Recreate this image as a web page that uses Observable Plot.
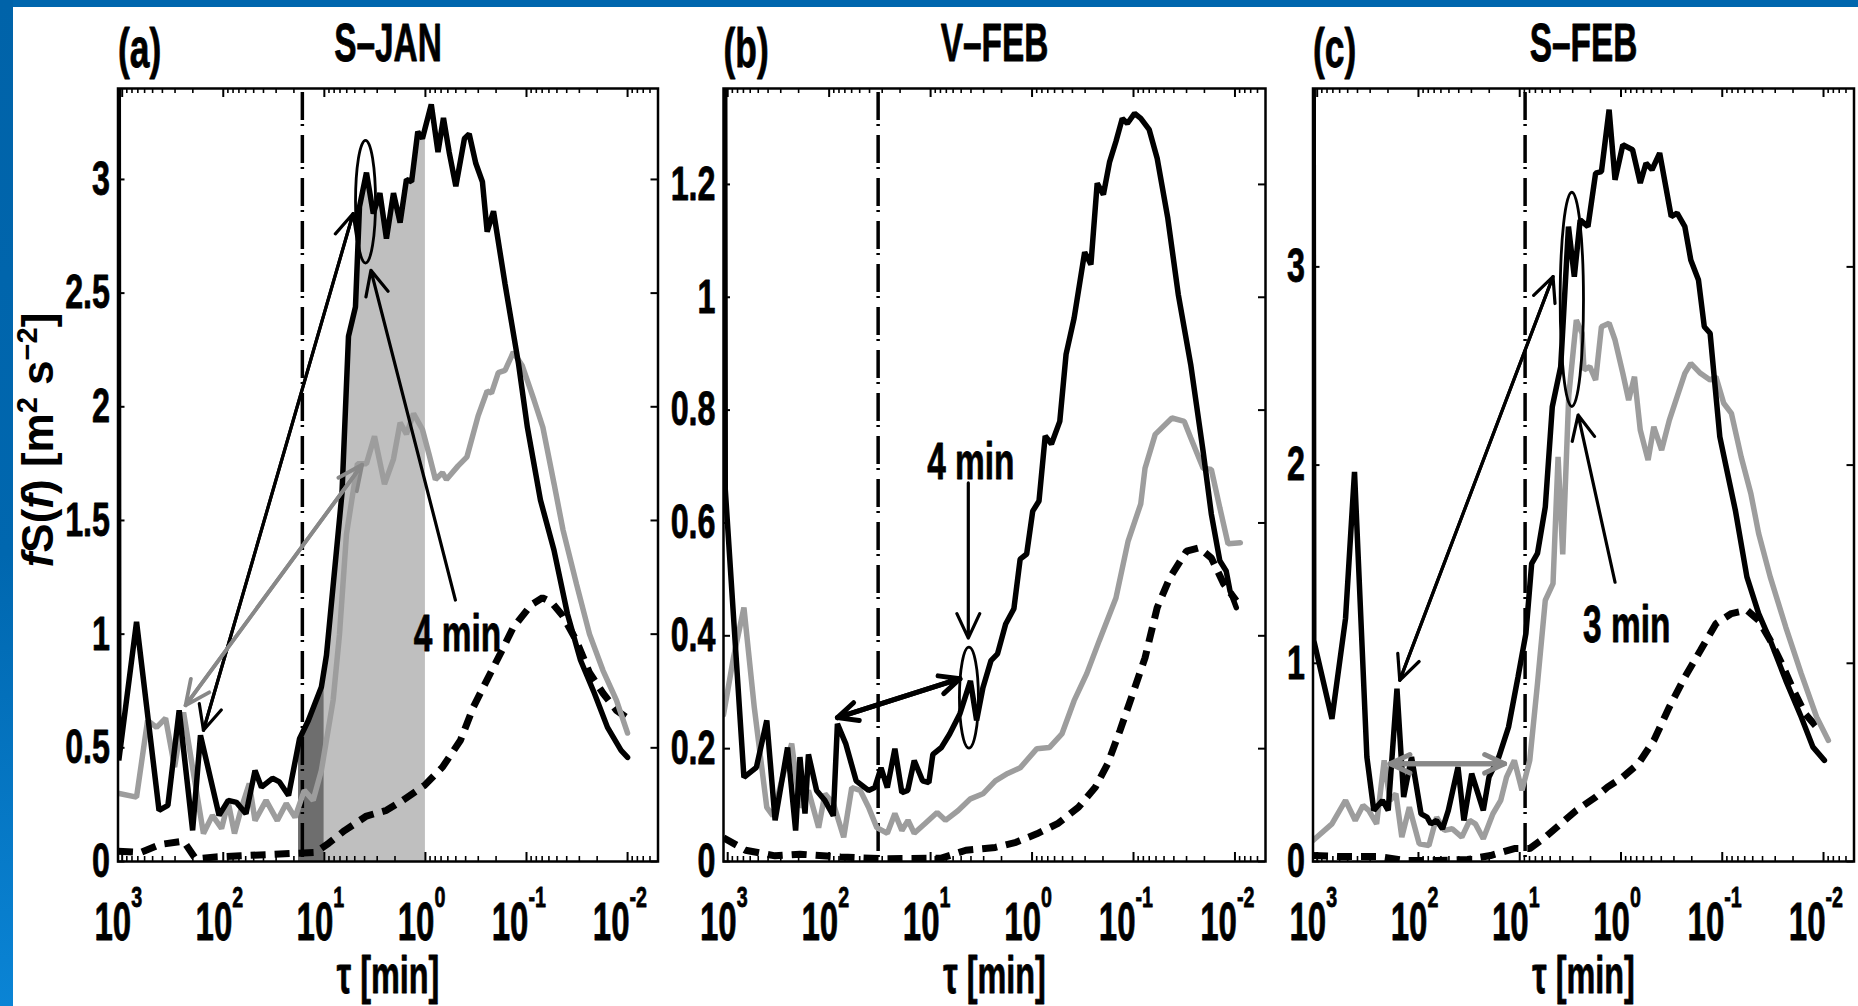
<!DOCTYPE html>
<html>
<head>
<meta charset="utf-8">
<script src="https://cdn.jsdelivr.net/npm/d3@7"></script>
<script src="https://cdn.jsdelivr.net/npm/@observablehq/plot@0.6"></script>
<style>
html,body{margin:0;padding:0;background:#fff;}
#fig{position:relative;width:1858px;height:1006px;overflow:hidden;background:#fff;}
#topbar{position:absolute;left:0;top:0;width:1858px;height:7px;background:#0066ae;}
#leftbar{position:absolute;left:0;top:0;width:13px;height:1006px;background:linear-gradient(to bottom,#0063a9 0%,#0067af 55%,#0a84d5 100%);}
.panel{position:absolute;top:0;}
#ylab{position:absolute;left:38px;top:440px;transform:translate(-50%,-50%) rotate(-90deg);font-family:'Liberation Sans',Arial,sans-serif;font-weight:bold;font-size:44px;line-height:44px;white-space:nowrap;color:#000;}
#ylab sup{font-size:0.66em;vertical-align:0.55em;line-height:0;}
</style>
</head>
<body>
<div id="fig">
  <div id="panelA" class="panel" style="left:0px"></div>
  <div id="panelB" class="panel" style="left:640px"></div>
  <div id="panelC" class="panel" style="left:1270px"></div>
  <div id="ylab"><i>f</i>S(<i>f</i>) [m<sup>2</sup> s<sup>−2</sup>]</div>
  <div id="topbar"></div>
  <div id="leftbar"></div>
</div>
<script>
// ---------------- axis tick labels ----------------
const majorTau = [1000, 100, 10, 1, 0.1, 0.01];
const majorExp = ["3", "2", "1", "0", "-1", "-2"];
const xDomain = [1100, 0.005];

const yTicksA = [0, 0.5, 1, 1.5, 2, 2.5, 3];
const yLabelsA = ["0", "0.5", "1", "1.5", "2", "2.5", "3"];
const yTicksB = [0, 0.2, 0.4, 0.6, 0.8, 1, 1.2];
const yLabelsB = ["0", "0.2", "0.4", "0.6", "0.8", "1", "1.2"];
const yTicksC = [0, 1, 2, 3];
const yLabelsC = ["0", "1", "2", "3"];

// ---------------- panel (a) S-JAN : [tau (min), fS(f)] ----------------
const a_black = [[1100,5],[1080,0.445],[721,1.054],[432,0.225],[353,0.247],[273,0.665],[201,0.137],[168,0.555],[110,0.203],[89.3,0.269],[74,0.26],[59.6,0.21],[48.5,0.40],[41.9,0.327],[32.6,0.366],[27.8,0.35],[22.6,0.29],[17.6,0.54],[14.4,0.62],[10.7,0.767],[9.53,0.907],[6.69,1.62],[5.77,2.31],[4.92,2.44],[4.49,2.88],[3.83,3.03],[3.28,2.85],[2.82,2.94],[2.43,2.74],[2.07,2.94],[1.78,2.81],[1.54,3.0],[1.37,2.99],[1.19,3.21],[1.07,3.18],[0.875,3.33],[0.751,3.12],[0.663,3.27],[0.582,3.12],[0.50,2.97],[0.411,3.18],[0.369,3.20],[0.317,3.07],[0.273,2.99],[0.245,2.77],[0.212,2.86],[0.163,2.54],[0.120,2.19],[0.098,1.91],[0.0728,1.59],[0.0535,1.37],[0.0394,1.09],[0.0292,0.885],[0.0213,0.74],[0.0158,0.59],[0.0116,0.489],[0.0100,0.458]];
const a_grey = [[1100,0.30],[721,0.283],[561,0.62],[457,0.59],[372,0.63],[303,0.415],[247,0.656],[192,0.357],[157,0.123],[128,0.203],[104,0.145],[89.3,0.26],[77.4,0.123],[65.9,0.238],[55.3,0.343],[48.5,0.18],[37.7,0.269],[29.2,0.18],[23.8,0.255],[19.5,0.194],[15.8,0.313],[12.9,0.269],[10.7,0.40],[8.18,0.71],[7.08,1.0],[6.04,1.44],[4.70,1.75],[3.83,1.75],[3.19,1.87],[2.54,1.66],[2.07,1.77],[1.78,1.93],[1.54,1.88],[1.31,1.97],[1.07,1.90],[0.92,1.79],[0.796,1.68],[0.678,1.71],[0.619,1.68],[0.475,1.74],[0.388,1.78],[0.301,1.96],[0.245,2.07],[0.222,2.06],[0.19,2.15],[0.163,2.16],[0.135,2.24],[0.11,2.18],[0.0843,2.03],[0.0689,1.91],[0.0533,1.66],[0.0436,1.46],[0.032,1.22],[0.0238,1.0],[0.0175,0.84],[0.0129,0.71],[0.01,0.565]];
const a_dash = [[1100,0.045],[658,0.04],[418,0.075],[247,0.09],[188,0.012],[119,0.02],[67.6,0.025],[38.3,0.03],[21.6,0.035],[12.2,0.04],[9.08,0.08],[6.31,0.136],[3.83,0.2],[2.43,0.225],[1.69,0.268],[1.02,0.335],[0.678,0.415],[0.45,0.533],[0.335,0.68],[0.245,0.80],[0.181,0.915],[0.135,1.03],[0.0893,1.13],[0.0695,1.16],[0.0566,1.14],[0.0436,1.08],[0.032,0.97],[0.0238,0.83],[0.0175,0.74],[0.0129,0.665],[0.01,0.63]];
const a_dashdot = 16.5;
const a_shadeDark = [18, 10];
const a_shadeLight = [10, 1];
const a_ellipse = {tau1: 4.86, tau2: 3.08, v1: 2.63, v2: 3.17};
const a_arrows = [
  {t1: 157, v1: 0.577, t2: 5.19, v2: 2.85, both: true, grey: false},
  {t1: 236, v1: 0.687, t2: 4.23, v2: 1.745, both: true, grey: true},
  {t1: 0.505, v1: 1.15, t2: 3.46, v2: 2.60, both: false, grey: false}
];
const a_note = {tau: 0.482, v: 0.996, label: "4 min"};

// ---------------- panel (b) V-FEB ----------------
const b_black = [[1100,3],[1057,0.66],[692,0.149],[521,0.167],[412,0.25],[341,0.073],[257,0.202],[214,0.055],[194,0.185],[173,0.085],[160,0.19],[133,0.126],[110,0.108],[91,0.081],[82.9,0.244],[68.7,0.209],[54.2,0.143],[40.9,0.126],[35.5,0.131],[30.8,0.166],[26.7,0.131],[22.5,0.2],[19.2,0.122],[16.8,0.126],[14.5,0.179],[12.0,0.143],[10.4,0.14],[9.5,0.19],[7.83,0.202],[6.49,0.226],[5.14,0.262],[4.05,0.32],[3.52,0.25],[3.05,0.308],[2.54,0.356],[2.19,0.368],[1.82,0.421],[1.51,0.448],[1.31,0.536],[1.13,0.545],[0.985,0.621],[0.854,0.639],[0.742,0.754],[0.644,0.74],[0.533,0.78],[0.462,0.899],[0.385,0.963],[0.303,1.08],[0.263,1.058],[0.228,1.202],[0.198,1.182],[0.172,1.24],[0.149,1.276],[0.129,1.317],[0.115,1.308],[0.0976,1.326],[0.0848,1.317],[0.070,1.297],[0.0584,1.246],[0.0459,1.14],[0.0362,1.005],[0.0273,0.881],[0.0206,0.727],[0.0171,0.616],[0.0141,0.533],[0.0122,0.515],[0.0112,0.48],[0.0097,0.45]];
const b_grey = [[1100,0.26],[876,0.362],[692,0.45],[547,0.273],[412,0.096],[358,0.081],[282,0.156],[234,0.209],[194,0.096],[160,0.126],[127,0.06],[110,0.12],[91,0.103],[71.9,0.043],[59.9,0.131],[49.4,0.126],[40.9,0.096],[33.9,0.06],[26.7,0.05],[22.5,0.085],[19.2,0.055],[16.7,0.073],[14.5,0.05],[11.4,0.067],[8.62,0.087],[7.14,0.073],[5.38,0.09],[4.05,0.111],[3.05,0.12],[2.30,0.143],[1.74,0.156],[1.31,0.166],[0.896,0.2],[0.676,0.202],[0.508,0.226],[0.385,0.285],[0.289,0.333],[0.218,0.391],[0.149,0.467],[0.113,0.568],[0.0848,0.634],[0.077,0.697],[0.0611,0.757],[0.0418,0.786],[0.0316,0.78],[0.0273,0.751],[0.0206,0.697],[0.0171,0.695],[0.0141,0.627],[0.0117,0.563],[0.00885,0.565]];
const b_dash = [[1100,0.042],[667,0.02],[341,0.01],[194,0.013],[76.9,0.008],[29.6,0.005],[7.83,0.006],[4.49,0.02],[2.30,0.025],[1.44,0.034],[0.896,0.049],[0.56,0.067],[0.349,0.096],[0.239,0.131],[0.180,0.173],[0.136,0.232],[0.102,0.297],[0.077,0.361],[0.0584,0.45],[0.0438,0.503],[0.030,0.55],[0.0226,0.556],[0.0171,0.538],[0.0129,0.492],[0.0097,0.462]];
const b_dashdot = 32.9;
const b_ellipse = {tau1: 5.14, tau2: 3.34, v1: 0.2, v2: 0.379};
const b_arrows = [
  {t1: 4.25, v1: 0.671, t2: 4.25, v2: 0.396, both: false, grey: false},
  {t1: 82.9, v1: 0.255, t2: 5.14, v2: 0.324, both: true, grey: false, thick: true}
];
const b_note = {tau: 4.01, v: 0.706, label: "4 min"};

// ---------------- panel (c) S-FEB ----------------
const c_black = [[1100,5],[1081,1.116],[715,0.72],[525,1.226],[428,1.966],[323,0.527],[276,0.258],[227,0.308],[199,0.258],[163,0.872],[140,0.325],[117,0.527],[94.2,0.24],[82.3,0.224],[75.5,0.19],[66.2,0.207],[57.9,0.165],[50.7,0.258],[40.7,0.476],[35.6,0.207],[29.8,0.443],[22.9,0.258],[20.1,0.426],[16.1,0.527],[12.9,0.678],[10.4,0.931],[8.69,1.15],[7.62,1.503],[6.68,1.554],[5.59,1.789],[4.77,2.294],[3.94,2.496],[3.30,3.203],[2.89,2.951],[2.53,3.237],[2.12,3.203],[1.78,3.473],[1.56,3.481],[1.31,3.793],[1.145,3.439],[0.959,3.616],[0.769,3.591],[0.645,3.423],[0.566,3.523],[0.494,3.49],[0.415,3.574],[0.319,3.254],[0.279,3.271],[0.234,3.203],[0.2045,3.035],[0.1717,2.934],[0.1504,2.698],[0.1318,2.665],[0.1057,2.143],[0.0887,1.958],[0.0743,1.773],[0.0571,1.436],[0.0437,1.251],[0.0336,1.116],[0.0236,0.914],[0.0166,0.729],[0.0127,0.577],[0.0098,0.51]];
const c_grey = [[1100,0.106],[715,0.19],[525,0.308],[421,0.207],[353,0.283],[310,0.258],[259,0.19],[218,0.51],[191,0.308],[167,0.342],[146,0.123],[123,0.274],[98.3,0.089],[78.8,0.081],[66.2,0.224],[55.4,0.157],[46.4,0.165],[37.3,0.123],[31.2,0.207],[27.4,0.19],[22.9,0.115],[18.4,0.241],[15.4,0.308],[13.5,0.426],[11.3,0.51],[9.5,0.359],[7.96,0.51],[6.68,0.897],[5.59,1.318],[4.69,1.402],[4.18,2.042],[3.76,1.55],[3.28,2.35],[2.76,2.732],[2.42,2.665],[2.32,2.48],[2.03,2.497],[1.78,2.429],[1.56,2.698],[1.31,2.716],[1.145,2.631],[0.959,2.463],[0.84,2.328],[0.736,2.446],[0.645,2.177],[0.54,2.025],[0.474,2.193],[0.397,2.076],[0.333,2.227],[0.279,2.345],[0.234,2.463],[0.2045,2.513],[0.1643,2.463],[0.1318,2.429],[0.1155,2.446],[0.0967,2.312],[0.0812,2.261],[0.0651,2.042],[0.0522,1.857],[0.0437,1.655],[0.0336,1.436],[0.0236,1.183],[0.0166,0.948],[0.0117,0.729],[0.00895,0.611]];
const c_dash = [[1100,0.03],[601,0.025],[248,0.025],[134,0.005],[66.2,0.005],[32.7,0.01],[19.4,0.03],[11.3,0.065],[7.98,0.065],[5.59,0.123],[3.94,0.19],[2.76,0.258],[1.78,0.325],[1.36,0.375],[0.959,0.426],[0.674,0.493],[0.474,0.611],[0.333,0.779],[0.234,0.931],[0.164,1.066],[0.1155,1.2],[0.0812,1.251],[0.0571,1.268],[0.0437,1.217],[0.0336,1.116],[0.0258,0.998],[0.0198,0.864],[0.0152,0.746],[0.0117,0.678],[0.0102,0.68]];
const c_dashdot = 8.85;
const c_ellipse = {tau1: 3.94, tau2: 2.32, v1: 2.293, v2: 3.374};
const c_arrows = [
  {t1: 1.145, v1: 1.409, t2: 2.65, v2: 2.253, both: false, grey: false},
  {t1: 153, v1: 0.914, t2: 4.69, v2: 2.951, both: true, grey: false},
  {t1: 191, v1: 0.493, t2: 14.1, v2: 0.493, both: true, grey: true, thick: true}
];
const c_note = {tau: 0.877, v: 1.19, label: "3 min"};

// ---------------- styling ----------------
function hasFont(f) {
  const c = document.createElement("canvas").getContext("2d");
  const s = "0123456789 S-JAN min (a)";
  c.font = "bold 100px monospace"; const w0 = c.measureText(s).width;
  c.font = "bold 100px " + f + ", monospace"; const w1 = c.measureText(s).width;
  return Math.abs(w0 - w1) > 0.5;
}
const narrow = hasFont("'Liberation Sans Narrow'") || hasFont("'Arial Narrow'") || hasFont("'Nimbus Sans Narrow'");
const FONT = narrow ? "'Liberation Sans Narrow','Arial Narrow','Nimbus Sans Narrow','Liberation Sans',Arial,sans-serif" : "'Liberation Sans',Arial,sans-serif";
const WIDEN = narrow ? 1 : 0.82;   // extra squeeze if only the regular-width face exists

// text roles: font size -> horizontal scale
const FS = {ytick: 48, xbase: 53, xexp: 30, title: 54, tag: 55, xlab: 52, note: 51};
const SXBY = {48: 0.82, 53: 0.76, 30: 0.8, 54: 0.755, 55: 0.785, 52: 0.76, 51: 0.8};

const H = 1006, MT = 88, MB = 145;
const GREY = "#9d9d9d", GREY_ARROW = "#888888", SHADE_LIGHT = "#bfbfbf", SHADE_DARK = "#6e6e6e";
let clipCount = 0;

function scalesAndDims(args) {
  const scales = args.find(a => a && !Array.isArray(a) && typeof a.x === "function" && typeof a.y === "function");
  const dims = args.find(a => a && typeof a === "object" && "marginTop" in a && "height" in a);
  return {scales, dims};
}
function shadeMark(rows, range, fill) {
  return function(...args) {
    const {scales, dims} = scalesAndDims(args);
    const x = scales.x, y = scales.y;
    const xa = x(range[0]), xb = x(range[1]);
    const g = d3.create("svg:g");
    const id = "shadeclip" + (++clipCount);
    g.append("clipPath").attr("id", id).append("rect")
      .attr("x", Math.min(xa, xb)).attr("width", Math.abs(xb - xa))
      .attr("y", dims.marginTop).attr("height", dims.height - dims.marginTop - dims.marginBottom);
    g.append("path").attr("clip-path", `url(#${id})`).attr("fill", fill)
      .attr("d", d3.area().x(d => x(d.tau)).y0(y(0)).y1(d => y(d.v))(rows));
    return g.node();
  };
}
function ellipseMark(e) {
  return function(...args) {
    const {scales} = scalesAndDims(args);
    const xa = scales.x(e.tau1), xb = scales.x(e.tau2), ya = scales.y(e.v1), yb = scales.y(e.v2);
    return d3.create("svg:ellipse")
      .attr("cx", (xa + xb) / 2).attr("cy", (ya + yb) / 2)
      .attr("rx", Math.abs(xb - xa) / 2).attr("ry", Math.abs(yb - ya) / 2)
      .attr("fill", "none").attr("stroke", "black").attr("stroke-width", 2.8).node();
  };
}
function arrowMarks(list) {
  const out = [];
  for (const a of list) {
    const sw = a.thick ? 5 : (a.grey ? 3.8 : 3.2);
    const wing = a.thick ? 22 : 27;
    const opts = {stroke: a.grey ? GREY_ARROW : "black", strokeWidth: sw, headLength: wing * 1.5 / sw, headAngle: 50};
    out.push(Plot.arrow([a], {x1: "t1", y1: "v1", x2: "t2", y2: "v2", ...opts}));
    if (a.both) out.push(Plot.arrow([a], {x1: "t2", y1: "v2", x2: "t1", y2: "v1", ...opts}));
  }
  return out;
}
function squeeze(svg) {
  svg.querySelectorAll("text").forEach(t => {
    const holder = t.closest("[font-size]");
    const fs = holder ? Math.round(parseFloat(holder.getAttribute("font-size"))) : 0;
    const sx = (SXBY[fs] || 0.85) * WIDEN;
    const tr = t.getAttribute("transform");
    if (tr) t.setAttribute("transform", tr + ` scale(${sx},1)`);
    else {
      const x = +(t.getAttribute("x") || 0), y = +(t.getAttribute("y") || 0);
      t.removeAttribute("x"); t.removeAttribute("y");
      t.setAttribute("transform", `translate(${x},${y}) scale(${sx},1)`);
    }
  });
}

function makePanel(p) {
  const innerW = p.width - p.ml - p.mr, innerH = H - MT - MB;
  const rows = arr => arr.map(([tau, v]) => ({tau, v}));
  const black = rows(p.black), grey = rows(p.grey), dash = rows(p.dash);
  const lo = Math.min(...xDomain), hi = Math.max(...xDomain);
  const allTicks = d3.scaleLog().domain([lo, hi]).ticks().filter(t => t > lo * 1.0001 && t < hi * 0.9999);
  const isMajor = t => Math.abs(Math.log10(t) - Math.round(Math.log10(t))) < 1e-6;
  const minor = allTicks.filter(t => !isMajor(t));
  const majors = majorTau.map((t, i) => ({t, e: majorExp[i]}));
  const pos = majors.filter(m => !m.e.startsWith("-")), neg = majors.filter(m => m.e.startsWith("-"));
  const heavy = {fill: "black", stroke: "black", strokeWidth: 0.8};

  const marks = [];
  for (const s of (p.shades || [])) marks.push(shadeMark(black, s.range, s.fill));
  marks.push(Plot.ruleX([p.dashdot], {stroke: "black", strokeWidth: 3.5, strokeDasharray: "28,4,2,9", insetTop: 4}));
  marks.push(Plot.line(dash, {x: "tau", y: "v", stroke: "black", strokeWidth: 7, strokeDasharray: "15,9", strokeLinecap: "butt", strokeLinejoin: "miter", clip: true}));
  marks.push(Plot.line(grey, {x: "tau", y: "v", stroke: GREY, strokeWidth: 5.5, strokeLinejoin: "miter", clip: true}));
  marks.push(Plot.line(black, {x: "tau", y: "v", stroke: "black", strokeWidth: 5.5, strokeLinejoin: "miter", clip: true}));
  marks.push(ellipseMark(p.ellipse));
  marks.push(...arrowMarks(p.arrows));
  marks.push(Plot.text([p.note], {x: "tau", y: "v", text: "label", fontSize: FS.note, lineAnchor: "middle", ...heavy}));
  marks.push(Plot.frame({stroke: "black", strokeWidth: 2.5}));
  // x ticks (inward, top & bottom)
  marks.push(Plot.ruleX(majorTau, {stroke: "black", strokeWidth: 2, insetTop: innerH - 9}));
  marks.push(Plot.ruleX(majorTau, {stroke: "black", strokeWidth: 2, insetBottom: innerH - 9}));
  marks.push(Plot.ruleX(minor, {stroke: "black", strokeWidth: 1.6, insetTop: innerH - 5}));
  marks.push(Plot.ruleX(minor, {stroke: "black", strokeWidth: 1.6, insetBottom: innerH - 5}));
  // y ticks (inward, left & right)
  marks.push(Plot.ruleY(p.yTicks, {stroke: "black", strokeWidth: 2, insetRight: innerW - 7}));
  marks.push(Plot.ruleY(p.yTicks, {stroke: "black", strokeWidth: 2, insetLeft: innerW - 7}));
  // y tick labels
  marks.push(Plot.text(p.yTicks, {y: d => d, text: (d, i) => p.yLabels[i], frameAnchor: "left", textAnchor: "end", dx: -8, lineAnchor: "middle", fontSize: FS.ytick, ...heavy}));
  // x tick labels 10^n
  for (const [set, off] of [[pos, 9], [neg, 2]]) {
    marks.push(Plot.text(set, {x: "t", text: () => "10", frameAnchor: "bottom", lineAnchor: "bottom", textAnchor: "end", dx: off, dy: 78, fontSize: FS.xbase, ...heavy}));
    marks.push(Plot.text(set, {x: "t", text: "e", frameAnchor: "bottom", lineAnchor: "bottom", textAnchor: "start", dx: off, dy: 45, fontSize: FS.xexp, ...heavy}));
  }
  // titles and x label
  marks.push(Plot.text([p.title], {text: d => d, frameAnchor: "top", lineAnchor: "bottom", dy: -28, fontSize: FS.title, ...heavy}));
  marks.push(Plot.text([p.tag], {text: d => d, frameAnchor: "top-left", textAnchor: "start", lineAnchor: "bottom", dy: -22, fontSize: FS.tag, ...heavy}));
  marks.push(Plot.text(["τ [min]"], {text: d => d, frameAnchor: "bottom", lineAnchor: "bottom", dy: 131, fontSize: FS.xlab, ...heavy}));

  const svg = Plot.plot({
    width: p.width, height: H,
    marginTop: MT, marginBottom: MB, marginLeft: p.ml, marginRight: p.mr,
    x: {type: "log", domain: xDomain, axis: null},
    y: {domain: p.yDomain, axis: null},
    style: {background: "transparent", overflow: "visible", fontFamily: FONT, fontWeight: "bold", color: "black"},
    marks
  });
  squeeze(svg);
  document.getElementById(p.id).appendChild(svg);
}

makePanel({id: "panelA", width: 680, ml: 117.5, mr: 22.5, yDomain: [0, 3.4], yTicks: yTicksA, yLabels: yLabelsA,
  black: a_black, grey: a_grey, dash: a_dash, dashdot: a_dashdot, title: "S–JAN", tag: "(a)",
  shades: [{range: a_shadeDark, fill: SHADE_DARK}, {range: a_shadeLight, fill: SHADE_LIGHT}],
  ellipse: a_ellipse, arrows: a_arrows, note: a_note});
makePanel({id: "panelB", width: 640, ml: 83, mr: 15, yDomain: [0, 1.37], yTicks: yTicksB, yLabels: yLabelsB,
  black: b_black, grey: b_grey, dash: b_dash, dashdot: b_dashdot, title: "V–FEB", tag: "(b)",
  ellipse: b_ellipse, arrows: b_arrows, note: b_note});
makePanel({id: "panelC", width: 588, ml: 42.5, mr: 4.5, yDomain: [0, 3.9], yTicks: yTicksC, yLabels: yLabelsC,
  black: c_black, grey: c_grey, dash: c_dash, dashdot: c_dashdot, title: "S–FEB", tag: "(c)",
  ellipse: c_ellipse, arrows: c_arrows, note: c_note});
</script>
</body>
</html>
